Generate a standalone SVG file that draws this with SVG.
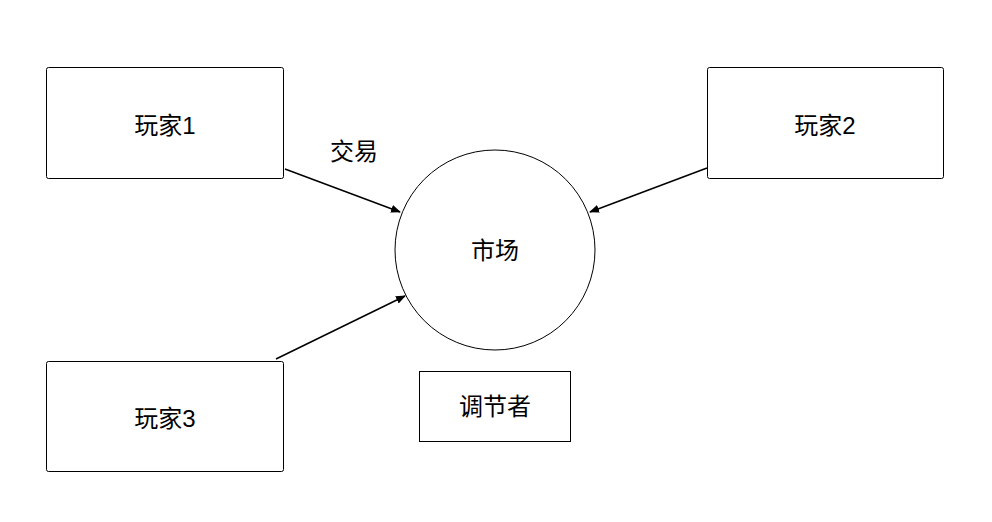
<svg xmlns="http://www.w3.org/2000/svg" width="992" height="522" viewBox="0 0 992 522">
<style>
.b{fill:#fff;stroke:#000;stroke-width:1}
.t{font-family:"Liberation Sans","Noto Sans CJK SC",sans-serif;font-size:24px;fill:#000;text-anchor:middle;dominant-baseline:central}
.c{stroke:#000;stroke-width:1.5;fill:none;marker-end:url(#a)}
</style>
<defs><marker id="a" markerWidth="10" markerHeight="8" refX="9" refY="4" orient="auto" markerUnits="userSpaceOnUse"><path d="M0,0L10,4L0,8z" fill="#000"/></marker></defs>
<rect width="992" height="522" fill="#fff"/>
<g id="p1"><rect class="b" x="46.5" y="67.5" width="237" height="111" rx="2"/><text class="t" x="165" y="125">玩家1</text></g>
<g id="p2"><rect class="b" x="707.5" y="67.5" width="236" height="111" rx="2"/><text class="t" x="825" y="125">玩家2</text></g>
<g id="p3"><rect class="b" x="46.5" y="361.5" width="237" height="110" rx="2"/><text class="t" x="165" y="418">玩家3</text></g>
<g id="m"><circle class="b" cx="495" cy="250" r="100" stroke-width="2"/><text class="t" x="495" y="250">市场</text></g>
<g id="r"><rect class="b" x="419.5" y="371.5" width="151" height="70"/><text class="t" x="495" y="406">调节者</text></g>
<g id="e">
<path class="c" d="M285,169L400,212"/>
<path class="c" d="M707,168L590,212"/>
<path class="c" d="M276,359L405,296"/>
<text class="t" x="354" y="151">交易</text>
</g>
</svg>
